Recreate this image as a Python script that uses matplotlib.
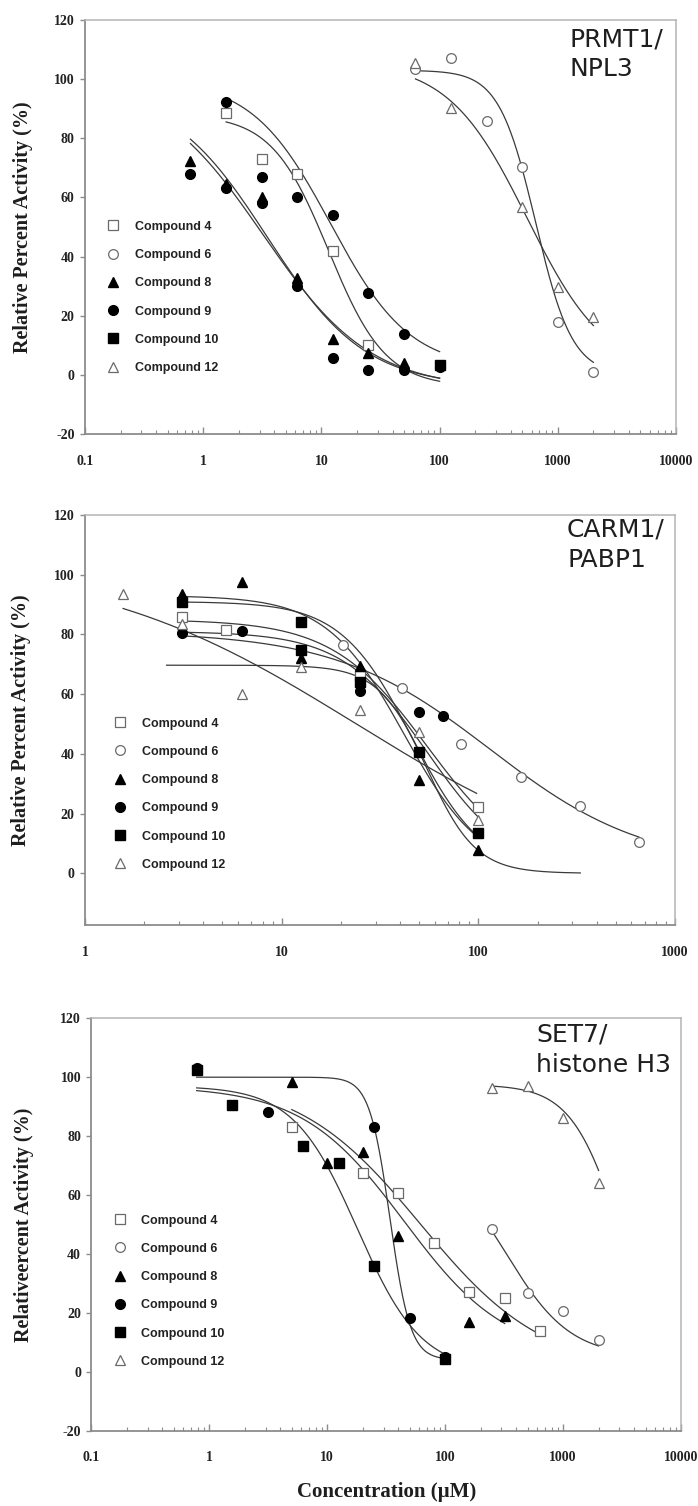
import numpy as np
import matplotlib
matplotlib.use("Agg")
import matplotlib.pyplot as plt
from matplotlib.lines import Line2D

# ---------------- data ----------------
compounds = ["Compound 4", "Compound 6", "Compound 8", "Compound 9", "Compound 10", "Compound 12"]
markers = ["s", "o", "^", "o", "s", "^"]
filled = [False, False, True, True, True, False]

# Panel 1: PRMT1 / NPL3
p1_c4_x = [1.5625, 3.125, 6.25, 12.5, 25]
p1_c4_y = [88.7, 72.9, 67.8, 41.9, 10.1]
p1_c6_x = [62.5, 125, 250, 500, 1000, 2000]
p1_c6_y = [103.5, 107, 86, 70.4, 18, 1]
p1_c8_x = [0.78, 1.5625, 3.125, 6.25, 12.5, 25, 50]
p1_c8_y = [72.3, 64.5, 60, 32.6, 12, 7.3, 3.9]
p1_c9_x = [1.5625, 3.125, 6.25, 12.5, 25, 50, 100]
p1_c9_y = [92.2, 67, 60.2, 54, 27.8, 13.8, 2.8]
p1_c9rep_x = [0.78, 1.5625, 3.125, 6.25, 12.5, 25, 50]
p1_c9rep_y = [67.8, 63.1, 58, 30, 5.8, 1.6, 1.6]
p1_c10_x = [100]
p1_c10_y = [3.2]
p1_c12_x = [62.5, 125, 500, 1000, 2000]
p1_c12_y = [105.4, 90.1, 56.9, 29.8, 19.4]
# fitted curves: top, bottom, IC50, Hill slope, x from, x to
p1_fits = [
    (100, -5, 3.2, 0.95, 0.78, 100),
    (97, -4, 3.5, 1.05, 0.78, 100),
    (100, 2, 12, 1.3, 1.5625, 100),
    (88, -4, 11.5, 1.8, 1.5625, 100),
    (103, 0, 650, 2.8, 62.5, 2000),
    (106, 0, 550, 1.3, 62.5, 2000),
]

# Panel 2: CARM1 / PABP1
p2_c4_x = [3.125, 5.2, 25, 100]
p2_c4_y = [86, 81.5, 66, 22.2]
p2_c6_x = [20.5, 41, 82, 164, 328, 656]
p2_c6_y = [76.4, 62, 43.3, 32.1, 22.5, 10.5]
p2_c8_x = [3.125, 6.25, 12.5, 25, 50, 100]
p2_c8_y = [93.7, 97.6, 72, 69.4, 31.4, 7.7]
p2_c9_x = [3.125, 6.25, 25, 50, 66]
p2_c9_y = [80.5, 81, 61, 54, 52.6]
p2_c10_x = [3.125, 12.5, 12.5, 25, 50, 100]
p2_c10_y = [91, 84.2, 74.8, 64, 40.7, 13.5]
p2_c12_x = [1.5625, 3.125, 6.25, 12.5, 25, 50, 100]
p2_c12_y = [93.4, 83.5, 60.2, 69, 54.6, 47.4, 17.8]
p2_fits = [
    (105, -5, 24, 0.64, 1.5625, 98),
    (85, 0, 55, 1.8, 3.125, 100),
    (81, 0, 55, 2.0, 3.125, 100),
    (93, 0, 42, 2.2, 3.125, 100),
    (91, 0, 46, 2.4, 3.125, 100),
    (69.7, 0, 55, 3.5, 2.6, 330),
    (81, 2, 115, 1.1, 3.125, 656),
]

# Panel 3: SET7 / histone H3
p3_c4_x = [5, 20, 40, 80, 160, 320, 640]
p3_c4_y = [83.2, 67.4, 60.5, 43.6, 27.2, 24.9, 13.8]
p3_c6_x = [250, 500, 1000, 2000]
p3_c6_y = [48.5, 26.8, 20.6, 10.8]
p3_c8_x = [5, 10, 20, 40, 160, 320]
p3_c8_y = [98.2, 70.8, 74.7, 46, 17, 18.9]
p3_c9_x = [0.78, 3.125, 25, 50, 100]
p3_c9_y = [103, 88.3, 83, 18.3, 5]
p3_c10_x = [0.78, 1.5625, 6.25, 12.5, 25, 100]
p3_c10_y = [102.5, 90.5, 76.7, 70.8, 35.9, 4.3]
p3_c12_x = [250, 500, 1000, 2000]
p3_c12_y = [96.3, 97, 86, 64.2]
p3_fits = [
    (100, 4, 34, 5.0, 0.78, 100),
    (97, 0, 18, 1.6, 0.78, 100),
    (97, 5, 45, 1.0, 0.78, 320),
    (100, 0, 62, 0.83, 5, 640),
    (75, 5, 330, 1.6, 250, 2000),
    (97.5, 0, 3000, 2.1, 250, 2000),
]

p13_xticks = [0.1, 1, 10, 100, 1000, 10000]
p13_xticklabels = ["0.1", "1", "10", "100", "1000", "10000"]
p2_xticks = [1, 10, 100, 1000]
p2_xticklabels = ["1", "10", "100", "1000"]
p13_yticks = [-20, 0, 20, 40, 60, 80, 100, 120]
p2_yticks = [0, 20, 40, 60, 80, 100, 120]

titles = ["PRMT1/\nNPL3", "CARM1/\nPABP1", "SET7/\nhistone H3"]
ylabels = ["Relative Percent Activity (%)", "Relative Percent Activity (%)",
           "Relativeercent Activity (%)"]
xlabel = "Concentration (\u00b5M)"

# ---------------- drawing ----------------
W, H = 698, 1506
fig = plt.figure(figsize=(W / 100, H / 100), dpi=100)
fig.patch.set_facecolor("white")

serif = "Liberation Serif"
sans = "Liberation Sans"
LINE = "#3a3a3a"
EDGE_OPEN = "#6a6a6a"


def rect(l, r, t, b):
    return [l / W, 1 - b / H, (r - l) / W, (b - t) / H]


ax1 = fig.add_axes(rect(85, 676, 20, 434))
ax2 = fig.add_axes(rect(85, 675, 515, 925))
ax3 = fig.add_axes(rect(91.5, 681, 1018.3, 1430.5))


def sty(i):
    if filled[i]:
        return dict(marker=markers[i], mfc="black", mec="black", color="none")
    return dict(marker=markers[i], mfc="white", mec=EDGE_OPEN, color="none", mew=0.9)


def msize(i):
    return {"s": 7, "o": 7, "^": 7.5}[markers[i]]


def draw_fits(ax, fits):
    for top, bot, ic50, hill, x0, x1 in fits:
        xs = np.logspace(np.log10(x0), np.log10(x1), 300)
        ys = bot + (top - bot) / (1 + (xs / ic50) ** hill)
        ax.plot(xs, ys, color=LINE, lw=0.9, zorder=2)


def draw_points(ax, series):
    for i, xs, ys in series:
        ax.plot(xs, ys, ls="none", ms=msize(i), zorder=3, **sty(i))


def style_axes(ax, xlim, ylim, xticks, xtl, yticks):
    ax.set_xscale("log")
    ax.set_xlim(*xlim)
    ax.set_ylim(*ylim)
    ax.set_xticks(xticks)
    ax.set_xticklabels(xtl)
    ax.set_yticks(yticks)
    ax.set_yticklabels([str(v) for v in yticks])
    for s in ["left", "bottom"]:
        ax.spines[s].set_color("#8c8c8c")
        ax.spines[s].set_linewidth(1.3)
    for s in ["top", "right"]:
        ax.spines[s].set_color("#b4b4b4")
        ax.spines[s].set_linewidth(1.1)
    ax.tick_params(axis="x", which="major", direction="in", length=5, width=1,
                   color="#8c8c8c", pad=15)
    ax.tick_params(axis="x", which="minor", direction="in", length=3, width=0.8,
                   color="#8c8c8c")
    ax.tick_params(axis="y", which="major", direction="out", length=3.5, width=1,
                   color="#8c8c8c", pad=4)
    for lab in ax.get_xticklabels() + ax.get_yticklabels():
        lab.set_fontfamily(serif)
        lab.set_fontweight("bold")
        lab.set_fontsize(10)
        lab.set_color("#222222")


def legend(ax, x0, y0):
    handles = []
    for i, name in enumerate(compounds):
        handles.append(Line2D([], [], ls="none", ms=msize(i), label=name, **sty(i)))
    leg = ax.legend(handles=handles, loc="upper left", bbox_to_anchor=(x0, y0),
                    frameon=False, borderpad=0, borderaxespad=0,
                    handlelength=1.0, handletextpad=1.25, labelspacing=1.30,
                    prop=dict(family=sans, weight="bold", size=9))
    for t in leg.get_texts():
        t.set_color("#222222")


def title(ax, x, y, text):
    ax.text(x, y, text, transform=ax.transAxes, ha="left", va="top",
            fontsize=18, family="DejaVu Sans", color="#1e1e1e", linespacing=1.3)


def ylab(ax, text, xc):
    ax.set_ylabel(text, family=serif, weight="bold", fontsize=14.5, color="#1e1e1e")
    ax.yaxis.set_label_coords(xc, 0.5)
    ax.yaxis.label.set_va("center")


# Panel 1
draw_fits(ax1, p1_fits)
draw_points(ax1, [(0, p1_c4_x, p1_c4_y), (1, p1_c6_x, p1_c6_y), (2, p1_c8_x, p1_c8_y),
                  (3, p1_c9_x, p1_c9_y), (3, p1_c9rep_x, p1_c9rep_y),
                  (4, p1_c10_x, p1_c10_y), (5, p1_c12_x, p1_c12_y)])
style_axes(ax1, (0.1, 10000), (-20, 120), p13_xticks, p13_xticklabels, p13_yticks)
legend(ax1, 0.0368, 0.515)
title(ax1, 0.819, 0.983, titles[0])
ylab(ax1, ylabels[0], -0.105)

# Panel 2
draw_fits(ax2, p2_fits)
draw_points(ax2, [(0, p2_c4_x, p2_c4_y), (1, p2_c6_x, p2_c6_y), (2, p2_c8_x, p2_c8_y),
                  (3, p2_c9_x, p2_c9_y), (4, p2_c10_x, p2_c10_y), (5, p2_c12_x, p2_c12_y)])
style_axes(ax2, (1, 1000), (-17.3, 120), p2_xticks, p2_xticklabels, p2_yticks)
legend(ax2, 0.049, 0.506)
title(ax2, 0.817, 0.993, titles[1])
ylab(ax2, ylabels[1], -0.109)

# Panel 3
draw_fits(ax3, p3_fits)
draw_points(ax3, [(0, p3_c4_x, p3_c4_y), (1, p3_c6_x, p3_c6_y), (2, p3_c8_x, p3_c8_y),
                  (3, p3_c9_x, p3_c9_y), (4, p3_c10_x, p3_c10_y), (5, p3_c12_x, p3_c12_y)])
style_axes(ax3, (0.1, 10000), (-20, 120), p13_xticks, p13_xticklabels, p13_yticks)
legend(ax3, 0.037, 0.524)
title(ax3, 0.754, 0.989, titles[2])
ylab(ax3, ylabels[2], -0.114)
ax3.set_xlabel(xlabel, family=serif, weight="bold", fontsize=15, color="#1e1e1e")
ax3.xaxis.set_label_coords(0.5, -0.149)
ax3.xaxis.label.set_va("center")

fig.savefig("out.png", dpi=100, facecolor="white")
